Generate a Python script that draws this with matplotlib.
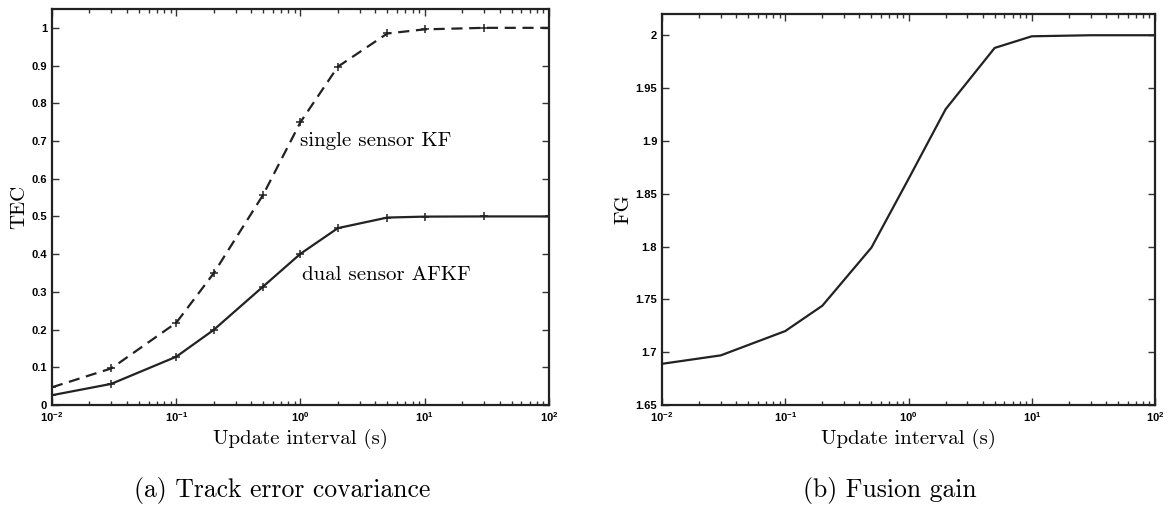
import matplotlib
matplotlib.use('Agg')
import matplotlib.pyplot as plt
from matplotlib.ticker import LogLocator, FuncFormatter, NullFormatter

# update intervals (s)
intervals = [0.01, 0.03, 0.1, 0.2, 0.5, 1, 2, 5, 10, 30, 100]

# track error covariance
tec_single_kf = [0.047, 0.097, 0.218, 0.349, 0.557, 0.750, 0.897, 0.985, 0.996, 1.0, 1.0]
tec_dual_afkf = [0.026, 0.056, 0.128, 0.199, 0.314, 0.401, 0.469, 0.497, 0.4995, 0.5, 0.5]

# fusion gain
fg = [1.689, 1.697, 1.720, 1.744, 1.799, 1.864, 1.930, 1.988, 1.999, 2.0, 2.0]

xticks = [1e-2, 1e-1, 1e0, 1e1, 1e2]
tec_ticks = [0, 0.1, 0.2, 0.3, 0.4, 0.5, 0.6, 0.7, 0.8, 0.9, 1.0]
fg_ticks = [1.65, 1.7, 1.75, 1.8, 1.85, 1.9, 1.95, 2.0]

SERIF = 'cmr10'
TICKFONT = {'family': 'Liberation Sans', 'weight': 'bold', 'size': 8}


def style_axes(ax, yticks, ylim):
    ax.set_xscale('log')
    ax.set_xlim(1e-2, 1e2)
    ax.set_ylim(*ylim)
    ax.set_xticks(xticks)
    ax.xaxis.set_minor_locator(LogLocator(base=10, subs=range(2, 10), numticks=20))
    ax.xaxis.set_minor_formatter(NullFormatter())
    ax.set_yticks(yticks)
    ax.yaxis.set_major_formatter(FuncFormatter(lambda v, p: '%g' % v))
    ax.tick_params(which='both', direction='in', top=True, right=True, width=1.0, color='#333333')
    ax.tick_params(which='major', length=5)
    ax.tick_params(which='minor', length=3)
    for lab in ax.get_xticklabels() + ax.get_yticklabels():
        lab.set_fontfamily(TICKFONT['family'])
        lab.set_fontweight(TICKFONT['weight'])
        lab.set_fontsize(TICKFONT['size'])
    for sp in ax.spines.values():
        sp.set_linewidth(1.6)
        sp.set_color('#222222')
    ax.set_xlabel('Update interval (s)', family=SERIF, fontsize=15, labelpad=4)


fig = plt.figure(figsize=(11.68, 5.13), dpi=100)
ax1 = fig.add_axes([0.0445, 0.2105, 0.4255, 0.772])
ax2 = fig.add_axes([0.5668, 0.2105, 0.4221, 0.762])

ax1.plot(intervals, tec_single_kf, color='#222222', linestyle=(0, (5, 3)), linewidth=1.6,
         marker='+', markersize=6, markeredgewidth=1.1)
ax1.plot(intervals, tec_dual_afkf, color='#222222', linestyle='-', linewidth=1.6,
         marker='+', markersize=6, markeredgewidth=1.1)
ax1.text(1.0, 0.70, 'single sensor KF', family=SERIF, fontsize=15, va='center', ha='left')
ax1.text(1.03, 0.345, 'dual sensor AFKF', family=SERIF, fontsize=15, va='center', ha='left')
style_axes(ax1, tec_ticks, (0, 1.05))
ax1.set_ylabel('TEC', family=SERIF, fontsize=15, labelpad=2)

ax2.plot(intervals, fg, color='#222222', linestyle='-', linewidth=1.6)
style_axes(ax2, fg_ticks, (1.65, 2.02))
ax2.set_ylabel('FG', family=SERIF, fontsize=15, labelpad=2)

fig.text(0.242, 0.043, '(a) Track error covariance', family=SERIF, fontsize=18.5, ha='center', va='center')
fig.text(0.762, 0.043, '(b) Fusion gain', family=SERIF, fontsize=18.5, ha='center', va='center')

fig.savefig('out.png', dpi=100)
